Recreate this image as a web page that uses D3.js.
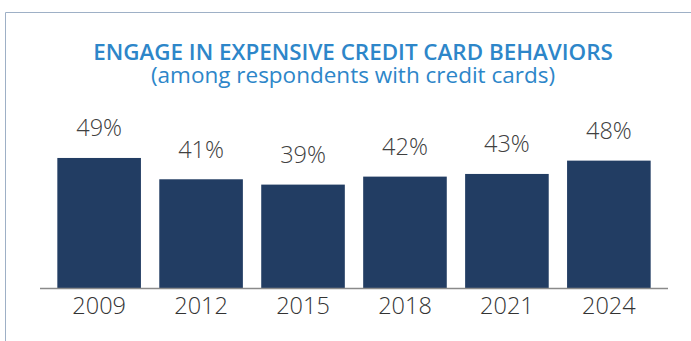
<!DOCTYPE html>
<html>
<head>
<meta charset="utf-8">
<script src="https://cdn.jsdelivr.net/npm/d3@7"></script>
<style>
  html, body { margin: 0; padding: 0; background: #ffffff; }
  svg { display: block; }
</style>
</head>
<body>
<svg id="chart" width="691" height="341"></svg>
<script>
// Survey years and share of respondents (with credit cards) engaging in expensive behaviors
const years = ["2009", "2012", "2015", "2018", "2021", "2024"];
const shares = [49, 41, 39, 42, 43, 48];
const valueLabels = ["49%", "41%", "39%", "42%", "43%", "48%"];

const titleText = "ENGAGE IN EXPENSIVE CREDIT CARD BEHAVIORS";
const subtitleText = "(among respondents with credit cards)";

const W = 691, H = 341;
const svg = d3.select("#chart");

// Frame: top and left rules only
svg.append("line")
  .attr("x1", 5.5).attr("x2", W).attr("y1", 12.5).attr("y2", 12.5)
  .attr("stroke", "#9eb0c6").attr("stroke-width", 1);
svg.append("line")
  .attr("x1", 5.5).attr("x2", 5.5).attr("y1", 12.5).attr("y2", H)
  .attr("stroke", "#9eb0c6").attr("stroke-width", 1);

// Title block
svg.append("text")
  .attr("x", 353).attr("y", 60)
  .attr("text-anchor", "middle")
  .attr("font-family", "'Open Sans', sans-serif")
  .attr("font-weight", 600)
  .attr("font-size", 22.4)
  .attr("fill", "#2d86c9")
  .text(titleText);
svg.append("text")
  .attr("x", 353).attr("y", 82.5)
  .attr("text-anchor", "middle")
  .attr("font-family", "'Open Sans', sans-serif")
  .attr("font-weight", 400)
  .attr("font-size", 22.5)
  .attr("fill", "#2d86c9")
  .text(subtitleText);

// Scales
const x = d3.scaleBand()
  .domain(years)
  .range([40, 668])
  .paddingInner(0.18)
  .paddingOuter(0.17);

const baseline = 288.5;
const y = d3.scaleLinear()
  .domain([0, 50])
  .range([baseline, baseline - 133.2]);

// Bars
svg.append("g")
  .selectAll("rect")
  .data(years)
  .join("rect")
  .attr("x", d => x(d))
  .attr("width", x.bandwidth())
  .attr("y", (d, i) => y(shares[i]))
  .attr("height", (d, i) => baseline - y(shares[i]))
  .attr("fill", "#223d63");

// Value labels above bars
svg.append("g")
  .selectAll("text")
  .data(years)
  .join("text")
  .attr("x", d => x(d) + x.bandwidth() / 2)
  .attr("y", (d, i) => y(shares[i]) - 21.5)
  .attr("text-anchor", "middle")
  .attr("font-family", "'Open Sans', sans-serif")
  .attr("font-weight", 300)
  .attr("font-size", 23.5)
  .attr("fill", "#404040")
  .text((d, i) => valueLabels[i]);

// Category axis
const axis = svg.append("g")
  .attr("transform", `translate(0,${baseline})`)
  .call(d3.axisBottom(x).tickSize(0).tickPadding(9));
axis.select(".domain")
  .attr("d", "M40,0H668")
  .attr("stroke", "#8a8a8a")
  .attr("stroke-width", 1.5);
axis.selectAll("text")
  .attr("font-family", "'Open Sans', sans-serif")
  .attr("font-weight", 300)
  .attr("font-size", 23.5)
  .attr("fill", "#333333");
</script>
</body>
</html>
